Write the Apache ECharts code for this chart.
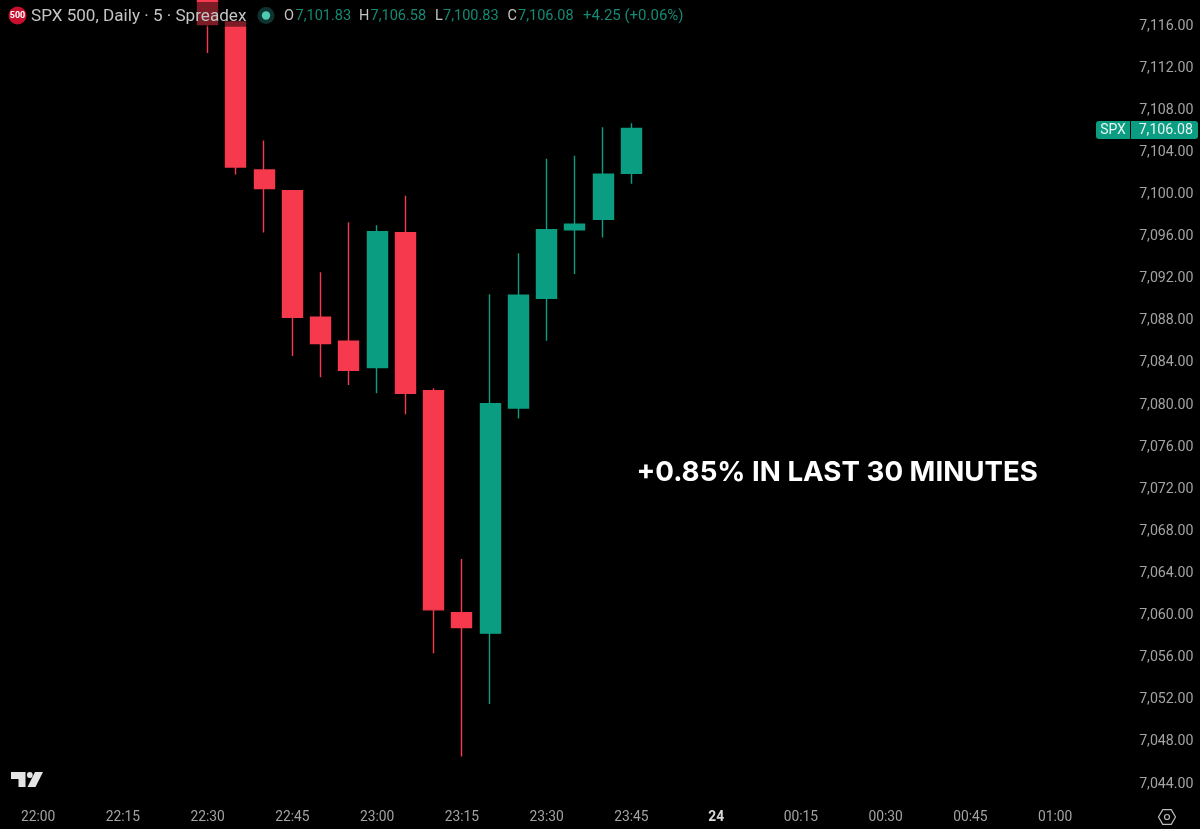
<!DOCTYPE html>
<html>
<head>
<meta charset="utf-8">
<title>SPX 500</title>
<script src="https://cdn.jsdelivr.net/npm/echarts@6/dist/echarts.min.js"></script>
<style>
html,body{margin:0;padding:0;background:#000;}
#main{width:1200px;height:829px;}
</style>
</head>
<body>
<div id="main"></div>
<script>
// 5 minute slots, 22:00 to 01:05
var categories=['22:00','22:05','22:10','22:15','22:20','22:25','22:30','22:35','22:40','22:45','22:50','22:55',
	'23:00','23:05','23:10','23:15','23:20','23:25','23:30','23:35','23:40','23:45','23:50','23:55',
	'00:00','00:05','00:10','00:15','00:20','00:25','00:30','00:35','00:40','00:45','00:50','00:55','01:00','01:05'];
var firstCandle=6;
var opens =[7122.00,7116.19,7102.13,7100.17,7088.15,7085.87,7083.36,7096.18,7081.18,7060.09,7058.14,7079.53,7089.95,7096.44,7097.45,7101.83];
var closes=[7115.95,7102.42,7100.38,7088.15,7085.64,7083.11,7096.28,7080.93,7060.35,7058.67,7079.94,7090.24,7096.47,7096.98,7101.73,7106.08];
var lows  =[7113.25,7101.71,7096.20,7084.47,7082.45,7081.72,7080.93,7078.93,7056.24,7046.42,7051.42,7078.52,7085.92,7092.26,7095.71,7100.83];
var highs =[7122.00,7116.19,7104.94,7100.17,7092.42,7097.17,7096.88,7099.69,7081.40,7065.19,7090.33,7094.22,7103.21,7103.49,7106.19,7106.58];
var changeText='+4.25 (+0.06%)';
var noteText='+0.85% IN LAST 30 MINUTES';

var UP='#0b9d82',DOWN='#f6394c',GREY='#a3a3a3',FONT='Roboto',LEGEND_UP='#148a75',LEGEND='#c4c4c4';

function money(v){
	return v.toLocaleString('en-US',{minimumFractionDigits:2,maximumFractionDigits:2});
}
var candles=[];
for(var i=0;i<categories.length;i++){
	var k=i-firstCandle;
	if(k>=0&&k<opens.length){
		candles.push([opens[k],closes[k],lows[k],highs[k]]);
	}else{
		candles.push(['-','-','-','-']);
	}
}
var last=opens.length-1;

var myChart=echarts.init(document.getElementById('main'));
var option={
	animation:false,
	backgroundColor:'#000',
	grid:{left:24,right:102.5,top:24,bottom:47},
	xAxis:{
		type:'category',
		data:categories,
		axisLine:{show:false},
		axisTick:{show:false},
		splitLine:{show:false},
		axisLabel:{
			interval:2,
			margin:29,
			color:GREY,
			fontFamily:FONT,
			fontSize:13.8,
			formatter:function(value){
				return value==='00:00'?'{day|24}':value;
			},
			rich:{day:{color:'#d8d8d8',fontFamily:FONT,fontSize:13.8,fontWeight:'bold'}}
		}
	},
	yAxis:{
		type:'value',
		position:'right',
		min:7044,
		max:7116,
		interval:4,
		scale:true,
		axisLine:{show:false},
		axisTick:{show:false},
		splitLine:{show:false},
		axisLabel:{
			margin:96,
			align:'right',
			color:GREY,
			fontFamily:FONT,
			fontSize:14.2,
			formatter:function(value){return '{p|'+money(value)+'}';},
			rich:{p:{color:GREY,fontFamily:FONT,fontSize:14.2,padding:[4,0,0,0]}}
		}
	},
	series:[{
		type:'candlestick',
		clip:false,
		barWidth:20.5,
		data:candles,
		itemStyle:{color:UP,color0:DOWN,borderColor:UP,borderColor0:DOWN,borderWidth:1.4}
	}]
};
myChart.setOption(option);

// price tag sits on the last close, so it needs the axis scale first
var tagY=myChart.convertToPixel({yAxisIndex:0},closes[last])+1.5;

function label(x,y,text,color,size,weight){
	return {type:'text',x:x,y:y,z:102,style:{text:text,fill:color,font:(weight||'normal')+' '+(size||14.5)+'px '+FONT,textVerticalAlign:'middle'}};
}
var hexPoints=[];
for(var h=0;h<6;h++){
	hexPoints.push([1167+8.5*Math.cos(h*Math.PI/3),817+8.5*Math.sin(h*Math.PI/3)]);
}
var textY=16.5;
myChart.setOption({graphic:[
	// header strip dims whatever candle runs under it
	{type:'rect',z:100,shape:{x:6,y:2,width:684,height:24.7,r:4},style:{fill:'rgba(0,0,0,0.5)'}},
	{type:'circle',z:101,shape:{cx:17.5,cy:15.5,r:9},style:{fill:'#c8102e'}},
	{type:'text',x:17.5,y:16,z:102,style:{text:'500',fill:'#fff',font:'bold 9px '+FONT,textAlign:'center',textVerticalAlign:'middle'}},
	label(31,textY,'SPX 500, Daily · 5 · Spreadex',LEGEND,17.1),
	{type:'circle',z:101,shape:{cx:266,cy:15.5,r:8.5},style:{fill:'#0f3330'}},
	{type:'circle',z:102,shape:{cx:266,cy:15.5,r:4.2},style:{fill:'#4fc9b3'}},
	label(284,textY,'O',LEGEND),label(295.5,textY,money(opens[last]),LEGEND_UP),
	label(359,textY,'H',LEGEND),label(370.5,textY,money(highs[last]),LEGEND_UP),
	label(435,textY,'L',LEGEND),label(443,textY,money(lows[last]),LEGEND_UP),
	label(507.5,textY,'C',LEGEND),label(518,textY,money(closes[last]),LEGEND_UP),
	label(583,textY,changeText,LEGEND_UP,15),
	// price tag
	{type:'rect',z:101,shape:{x:1096,y:tagY-9,width:34,height:18,r:[3,0,0,3]},style:{fill:UP}},
	{type:'rect',z:101,shape:{x:1131,y:tagY-9,width:67,height:18,r:[0,3,3,0]},style:{fill:UP}},
	{type:'text',x:1113,y:tagY+0.5,z:102,style:{text:'SPX',fill:'#e8f5f2',font:'14px '+FONT,textAlign:'center',textVerticalAlign:'middle'}},
	{type:'text',x:1193,y:tagY+0.5,z:102,style:{text:money(closes[last]),fill:'#e8f5f2',font:'14.2px '+FONT,textAlign:'right',textVerticalAlign:'middle'}},
	// annotation
	{type:'text',x:636.5,y:473,z:102,style:{text:noteText,fill:'#fff',font:'700 27.7px Inter',textVerticalAlign:'middle'}},
	// tradingview mark
	{type:'polygon',z:102,shape:{points:[[11,772],[25.5,772],[25.5,787],[18.5,787],[18.5,779],[11,779]]},style:{fill:'#e4e4e4'}},
	{type:'circle',z:102,shape:{cx:29.8,cy:775,r:2.9},style:{fill:'#e4e4e4'}},
	{type:'polygon',z:102,shape:{points:[[43,772],[35.5,787],[27.5,787],[35,772]]},style:{fill:'#e4e4e4'}},
	// settings icon
	{type:'polygon',z:102,shape:{points:hexPoints},style:{fill:'none',stroke:'#bdbdbd',lineWidth:1.2}},
	{type:'circle',z:102,shape:{cx:1167,cy:817,r:2.5},style:{fill:'none',stroke:'#bdbdbd',lineWidth:1.2}}
]});
</script>
</body>
</html>
